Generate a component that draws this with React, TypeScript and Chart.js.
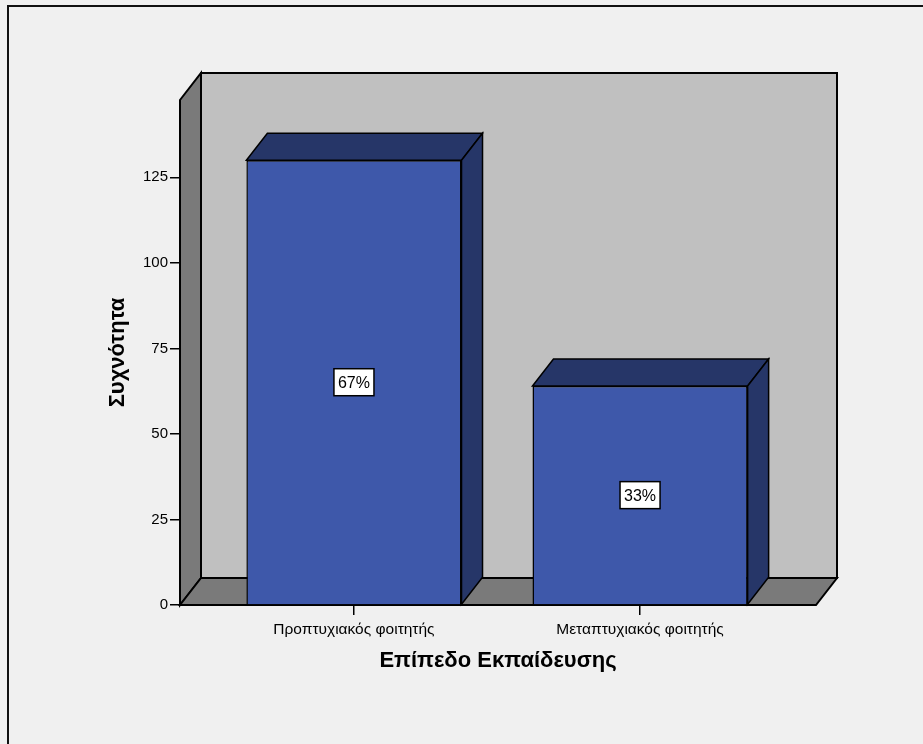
import React, { useEffect, useRef } from 'react';
import { Chart, registerables } from 'chart.js';

Chart.register(...registerables);

// Education level frequencies
const CATEGORIES = ['Προπτυχιακός φοιτητής', 'Μεταπτυχιακός φοιτητής'];
const COUNTS = [130, 64];
const Y_TICKS = [0, 25, 50, 75, 100, 125];
const Y_MAX = 147.6;
const X_MIN = -0.608;
const X_MAX = 1.615;
const X_TITLE = 'Επίπεδο Εκπαίδευσης';
const Y_TITLE = 'Συχνότητα';

const FONT = '"Liberation Sans", Arial, sans-serif';
const DEPTH_X = 21;
const DEPTH_Y = 27;
const PAGE_BG = '#f0f0f0';
const BACK_WALL = '#c0c0c0';
const SIDE_WALL = '#7a7a7a';
const BAR_FRONT = '#3e58aa';
const BAR_SHADE = '#263668';

const TOTAL = COUNTS.reduce((a, b) => a + b, 0);

function poly(ctx: CanvasRenderingContext2D, pts: number[][], fill: string, lw: number) {
  ctx.beginPath();
  ctx.moveTo(pts[0][0], pts[0][1]);
  for (let i = 1; i < pts.length; i++) ctx.lineTo(pts[i][0], pts[i][1]);
  ctx.closePath();
  ctx.fillStyle = fill;
  ctx.fill();
  ctx.lineWidth = lw;
  ctx.strokeStyle = '#000';
  ctx.lineJoin = 'miter';
  ctx.stroke();
}

const boxPlugin = {
  id: 'box3d',
  beforeDraw(chart: any) {
    const { ctx, width, height, chartArea: a } = chart;
    ctx.save();
    ctx.fillStyle = PAGE_BG;
    ctx.fillRect(0, 0, width, height);
    // outer frame
    ctx.lineWidth = 2;
    ctx.strokeStyle = '#111';
    ctx.strokeRect(8, 6, width + 20, height + 20);
    // back wall
    poly(ctx, [
      [a.left + DEPTH_X, a.top - DEPTH_Y],
      [a.right + DEPTH_X, a.top - DEPTH_Y],
      [a.right + DEPTH_X, a.bottom - DEPTH_Y],
      [a.left + DEPTH_X, a.bottom - DEPTH_Y],
    ], BACK_WALL, 2);
    // left wall
    poly(ctx, [
      [a.left, a.top],
      [a.left + DEPTH_X, a.top - DEPTH_Y],
      [a.left + DEPTH_X, a.bottom - DEPTH_Y],
      [a.left, a.bottom],
    ], SIDE_WALL, 2);
    // floor
    poly(ctx, [
      [a.left, a.bottom],
      [a.left + DEPTH_X, a.bottom - DEPTH_Y],
      [a.right + DEPTH_X, a.bottom - DEPTH_Y],
      [a.right, a.bottom],
    ], SIDE_WALL, 2);
    ctx.restore();
  },
  afterDatasetsDraw(chart: any) {
    const { ctx } = chart;
    const meta = chart.getDatasetMeta(0);
    ctx.save();
    meta.data.forEach((bar: any, i: number) => {
      const { x, y, base, width } = bar.getProps(['x', 'y', 'base', 'width'], true);
      const l = x - width / 2;
      const r = x + width / 2;
      // top face
      poly(ctx, [
        [l, y],
        [l + DEPTH_X, y - DEPTH_Y],
        [r + DEPTH_X, y - DEPTH_Y],
        [r, y],
      ], BAR_SHADE, 1.5);
      // side face
      poly(ctx, [
        [r, y],
        [r + DEPTH_X, y - DEPTH_Y],
        [r + DEPTH_X, base - DEPTH_Y],
        [r, base],
      ], BAR_SHADE, 1.5);
      // percentage label
      const label = Math.round((COUNTS[i] / TOTAL) * 100) + '%';
      ctx.font = `16px ${FONT}`;
      const tw = ctx.measureText(label).width;
      const bw = tw + 8;
      const bh = 27;
      const cy = (y + base) / 2;
      ctx.fillStyle = '#fff';
      ctx.fillRect(x - bw / 2, cy - bh / 2, bw, bh);
      ctx.lineWidth = 1.5;
      ctx.strokeStyle = '#000';
      ctx.strokeRect(x - bw / 2, cy - bh / 2, bw, bh);
      ctx.fillStyle = '#000';
      ctx.textAlign = 'center';
      ctx.textBaseline = 'middle';
      ctx.fillText(label, x, cy + 1);
    });
    ctx.restore();
  },
};

export default function App() {
  const ref = useRef<HTMLCanvasElement>(null);

  useEffect(() => {
    if (!ref.current) return;
    const chart = new Chart(ref.current, {
      type: 'bar',
      data: {
        datasets: [
          {
            data: CATEGORIES.map((_, i) => ({ x: i, y: COUNTS[i] })),
            backgroundColor: BAR_FRONT,
            borderColor: '#000',
            borderWidth: 1.5,
            barPercentage: 0.752,
            categoryPercentage: 1,
          },
        ],
      },
      options: {
        responsive: false,
        animation: false,
        devicePixelRatio: 1,
        layout: { padding: { top: 100, right: 107, left: 0, bottom: 0 } },
        plugins: {
          legend: { display: false },
          tooltip: { enabled: false },
        },
        scales: {
          x: {
            type: 'linear',
            min: X_MIN,
            max: X_MAX,
            offset: false,
            afterBuildTicks: (scale: any) => {
              scale.ticks = CATEGORIES.map((_, i) => ({ value: i }));
            },
            afterFit: (scale: any) => {
              scale.height = 139;
            },
            grid: {
              offset: false,
              drawOnChartArea: false,
              drawTicks: true,
              tickLength: 10,
              color: '#000',
              lineWidth: 1.5,
            },
            border: { display: false },
            ticks: {
              autoSkip: false,
              maxRotation: 0,
              padding: 5,
              color: '#000',
              font: { family: FONT, size: 15.5 },
              callback: (v: any) => CATEGORIES[v as number] ?? '',
            },
            title: {
              display: true,
              text: X_TITLE,
              color: '#000',
              font: { family: FONT, size: 22, weight: 'bold' },
              padding: { top: 0, bottom: 70 },
            },
          },
          y: {
            min: 0,
            max: Y_MAX,
            afterBuildTicks: (scale: any) => {
              scale.ticks = Y_TICKS.map((v) => ({ value: v }));
            },
            afterFit: (scale: any) => {
              scale.width = 180;
            },
            grid: {
              drawOnChartArea: false,
              drawTicks: true,
              tickLength: 10,
              color: '#000',
              lineWidth: 1.5,
            },
            border: { display: false },
            ticks: {
              padding: 2,
              color: '#000',
              font: { family: FONT, size: 15 },
            },
            title: {
              display: true,
              text: Y_TITLE,
              color: '#000',
              font: { family: FONT, size: 22, weight: 'bold' },
              padding: { top: 105, bottom: 0 },
            },
          },
        },
      },
      plugins: [boxPlugin],
    });
    return () => chart.destroy();
  }, []);

  return (
    <canvas
      ref={ref}
      width={923}
      height={744}
      style={{ position: 'fixed', left: 0, top: 0, width: 923, height: 744, display: 'block' }}
    />
  );
}
